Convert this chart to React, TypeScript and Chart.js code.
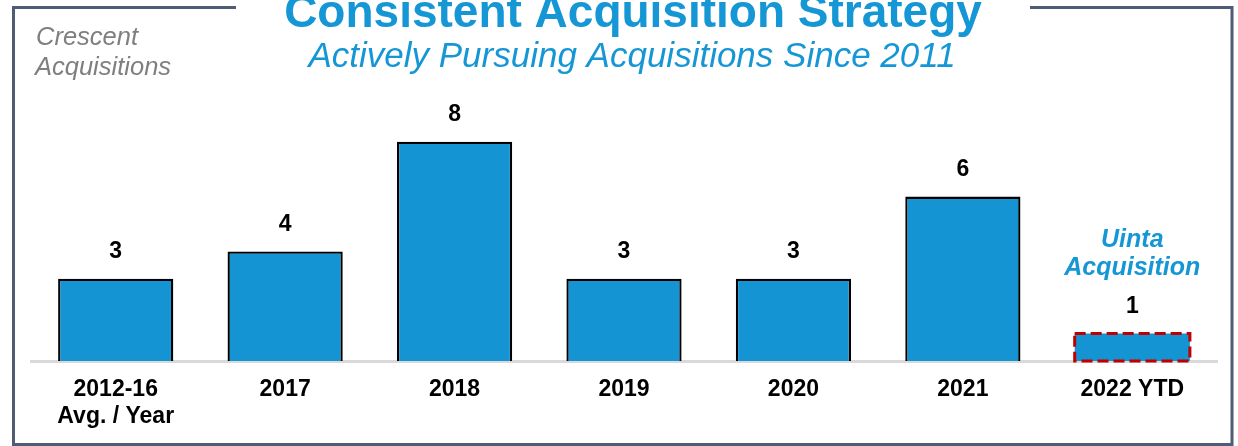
import React, { useEffect, useRef } from "react";
import { Chart, registerables } from "chart.js";

Chart.register(...registerables);

const categories: (string | string[])[] = [
  ["2012-16", "Avg. / Year"],
  "2017",
  "2018",
  "2019",
  "2020",
  "2021",
  "2022 YTD",
];
const acquisitions = [3, 4, 8, 3, 3, 6, 1];
const titleText = "Consistent Acquisition Strategy";
const subtitleText = "Actively Pursuing Acquisitions Since 2011";
const sideNote = ["Crescent", "Acquisitions"];
const annotation = ["Uinta", "Acquisition"];
const highlightIndex = 6;

const FONT = "'Liberation Sans', Arial, sans-serif";
const BLUE = "#1596D5";
const BAR_BLUE = "#1594D3";
const FRAME = "#4E5D75";

const overlayPlugin = {
  id: "overlay",
  afterDatasetsDraw(chart: any) {
    const ctx = chart.ctx as CanvasRenderingContext2D;
    const meta = chart.getDatasetMeta(0);
    ctx.save();
    // red dashed outline for YTD bar
    const hb = meta.data[highlightIndex];
    if (hb) {
      const left = hb.x - hb.width / 2;
      const w = hb.width;
      ctx.strokeStyle = "#C00000";
      ctx.lineWidth = 3;
      ctx.setLineDash([11, 5]);
      ctx.strokeRect(left, hb.y, w, hb.base - hb.y);
      ctx.setLineDash([]);
    }
    // value labels
    ctx.fillStyle = "#000";
    ctx.font = `bold 23px ${FONT}`;
    ctx.textAlign = "center";
    ctx.textBaseline = "middle";
    meta.data.forEach((bar: any, i: number) => {
      ctx.fillText(String(acquisitions[i]), bar.x, bar.y - 27);
    });
    // annotation above YTD bar
    if (hb) {
      ctx.fillStyle = BLUE;
      ctx.font = `italic bold 25px ${FONT}`;
      ctx.textBaseline = "alphabetic";
      ctx.fillText(annotation[0], hb.x, hb.y - 27 - 60);
      ctx.fillText(annotation[1], hb.x, hb.y - 27 - 32);
    }
    ctx.restore();
  },
  afterDraw(chart: any) {
    const ctx = chart.ctx as CanvasRenderingContext2D;
    ctx.save();
    // frame
    ctx.strokeStyle = FRAME;
    ctx.lineWidth = 3;
    ctx.beginPath();
    ctx.moveTo(236, 7.5);
    ctx.lineTo(13.5, 7.5);
    ctx.lineTo(13.5, 444.5);
    ctx.lineTo(1232, 444.5);
    ctx.lineTo(1232, 7.5);
    ctx.lineTo(1030, 7.5);
    ctx.stroke();
    // title
    ctx.fillStyle = BLUE;
    ctx.textAlign = "center";
    ctx.textBaseline = "alphabetic";
    ctx.font = `bold 46px ${FONT}`;
    ctx.fillText(titleText, 633, 27);
    ctx.font = `italic 35px ${FONT}`;
    ctx.fillText(subtitleText, 632, 67);
    // side note
    ctx.fillStyle = "#7F7F7F";
    ctx.textAlign = "left";
    ctx.font = `italic 25.5px ${FONT}`;
    ctx.fillText(sideNote[0], 36, 45);
    ctx.fillText(sideNote[1], 35, 75);
    ctx.restore();
  },
};

export default function App() {
  const ref = useRef<HTMLCanvasElement>(null);
  useEffect(() => {
    if (!ref.current) return;
    const chart = new Chart(ref.current, {
      type: "bar",
      data: {
        labels: categories,
        datasets: [
          {
            data: acquisitions,
            backgroundColor: BAR_BLUE,
            borderColor: "#000",
            borderWidth: acquisitions.map((_, i) => (i === highlightIndex ? 0 : 2.3)),
            borderSkipped: "start",
            barPercentage: 0.68,
            categoryPercentage: 1,
          },
        ],
      },
      options: {
        responsive: false,
        animation: false,
        devicePixelRatio: 1,
        layout: { padding: { left: 31, right: 21, top: 87, bottom: 0 } },
        plugins: {
          legend: { display: false },
          tooltip: { enabled: false },
          title: { display: false },
        },
        scales: {
          y: { display: false, min: 0, max: 10 },
          x: {
            grid: { display: false, drawTicks: false },
            border: { display: true, color: "#D9D9D9", width: 3 },
            ticks: {
              color: "#000",
              autoSkip: false,
              maxRotation: 0,
              padding: 15.5,
              font: { family: FONT, size: 23, weight: "bold", lineHeight: 27 / 23 },
            },
            afterFit(scale: any) {
              scale.height = 85;
            },
          },
        },
      },
      plugins: [overlayPlugin],
    } as any);
    return () => chart.destroy();
  }, []);
  return (
    <div style={{ position: "fixed", left: 0, top: 0, width: 1238, height: 446, background: "#fff" }}>
      <canvas ref={ref} width={1238} height={446} style={{ display: "block" }} />
    </div>
  );
}
